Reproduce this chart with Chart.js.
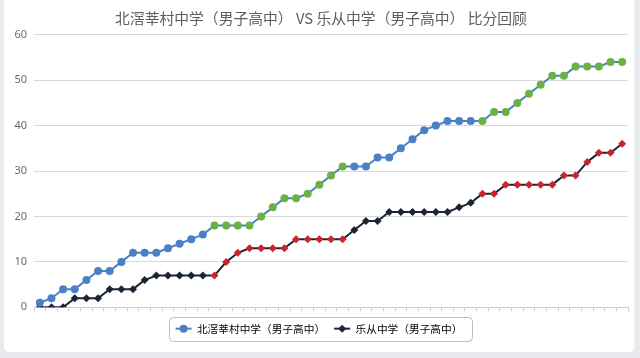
<!DOCTYPE html>
<html>
<head>
<meta charset="utf-8">
<script src="https://cdn.jsdelivr.net/npm/chart.js@4.4.1/dist/chart.umd.min.js"></script>
<style>
  html, body { margin: 0; padding: 0; background: #e8eaee; }
  #wrap { width: 640px; height: 358px; position: relative; }
</style>
</head>
<body>
<div id="wrap"><canvas id="c" width="640" height="358"></canvas></div>
<script>
// ---- data ----
const chartTitle = '北滘莘村中学（男子高中） VS 乐从中学（男子高中） 比分回顾';
const seriesNames = ['北滘莘村中学（男子高中）', '乐从中学（男子高中）'];
const categories = ['1','2','3','4','5','6','7','8','9','10','11','12','13','14','15','16','17','18','19','20','21','22','23','24','25','26','27','28','29','30','31','32','33','34','35','36','37','38','39','40','41','42','43','44','45','46','47','48','49','50','51'];
const beijiaoScores = [1,2,4,4,6,8,8,10,12,12,12,13,14,15,16,18,18,18,18,20,22,24,24,25,27,29,31,31,31,33,33,35,37,39,40,41,41,41,41,43,43,45,47,49,51,51,53,53,53,54,54];
const lecongScores  = [0,0,0,2,2,2,4,4,4,6,7,7,7,7,7,7,10,12,13,13,13,13,15,15,15,15,15,17,19,19,21,21,21,21,21,21,22,23,25,25,27,27,27,27,27,29,29,32,34,34,36];
const segment       = [1,1,1,1,1,1,1,1,1,1,1,1,1,1,1,2,2,2,2,2,2,2,2,2,2,2,2,3,3,3,3,3,3,3,3,3,3,3,4,4,4,4,4,4,4,4,4,4,4,4,4];
const yTicks = [0, 10, 20, 30, 40, 50, 60];

// ---- styles ----
const BLUE = '#4a80c4', GREEN = '#6ab246', DARK = '#1b2536', RED = '#cc2229';
const blueColors = segment.map(s => s % 2 === 0 ? GREEN : BLUE);
const darkColors = segment.map(s => s % 2 === 0 ? RED : DARK);

const framePlugin = {
  id: 'frame',
  afterLayout(chart) {
    if (chart.titleBlock) { chart.titleBlock.left += 7; chart.titleBlock.right += 7; }
    if (chart.legend) { chart.legend.left += 5; chart.legend.right += 5; }
  },
  beforeDraw(chart) {
    const ctx = chart.ctx;
    ctx.save();
    ctx.fillStyle = '#e8eaee';
    ctx.fillRect(0, 0, chart.width, chart.height);
    ctx.fillStyle = '#ffffff';
    ctx.beginPath();
    ctx.roundRect(4, -10, 630.5, 362, 5);
    ctx.fill();
    // legend box + markers
    const lg = chart.legend;
    if (lg && lg.legendHitBoxes && lg.legendHitBoxes.length) {
      const hb = lg.legendHitBoxes;
      const first = hb[0], last = hb[hb.length - 1];
      const x0 = first.left - 6.5, x1 = last.left + last.width + 9.5;
      const cy = first.top + first.height / 2;
      ctx.strokeStyle = '#bdbdbd';
      ctx.lineWidth = 1;
      ctx.beginPath();
      ctx.roundRect(Math.round(x0) + 0.5, Math.round(cy - 12) + 0.5, Math.round(x1 - x0), 24, 4);
      ctx.stroke();
      const cols = [BLUE, DARK];
      hb.forEach((h, i) => {
        const c = cols[i];
        ctx.strokeStyle = c; ctx.fillStyle = c; ctx.lineWidth = 2;
        ctx.beginPath(); ctx.moveTo(h.left, cy); ctx.lineTo(h.left + 16, cy); ctx.stroke();
        const px = h.left + 8;
        ctx.beginPath();
        if (i === 0) { ctx.arc(px, cy, 4, 0, Math.PI * 2); }
        else { ctx.moveTo(px, cy - 4); ctx.lineTo(px + 4, cy); ctx.lineTo(px, cy + 4); ctx.lineTo(px - 4, cy); ctx.closePath(); }
        ctx.fill();
      });
    }
    ctx.restore();
  }
};

new Chart(document.getElementById('c'), {
  type: 'line',
  data: {
    labels: categories,
    datasets: [
      {
        label: seriesNames[0],
        data: beijiaoScores,
        borderColor: BLUE,
        backgroundColor: BLUE,
        borderWidth: 2,
        pointStyle: 'circle',
        pointRadius: 4,
        pointBorderWidth: 0,
        pointBackgroundColor: blueColors,
        pointBorderColor: blueColors,
        tension: 0
      },
      {
        label: seriesNames[1],
        data: lecongScores,
        borderColor: DARK,
        backgroundColor: DARK,
        borderWidth: 2,
        pointStyle: 'rectRot',
        pointRadius: 4,
        pointBorderWidth: 0,
        pointBackgroundColor: darkColors,
        pointBorderColor: darkColors,
        tension: 0
      }
    ]
  },
  options: {
    responsive: false,
    animation: false,
    devicePixelRatio: 1,
    layout: { padding: { left: 0, right: 12, top: 0, bottom: 14 } },
    plugins: {
      title: {
        display: true,
        text: chartTitle,
        color: '#5e5e5e',
        font: { family: '"Noto Sans CJK SC", sans-serif', size: 14.8, weight: 'normal', lineHeight: 1.2 },
        padding: { top: 9, bottom: 8 }
      },
      legend: {
        display: true,
        position: 'bottom',
        labels: {
          color: '#4a4a4a',
          font: { family: '"Noto Sans CJK SC", sans-serif', size: 10.7 },
          boxWidth: 16,
          boxHeight: 10,
          padding: 9,
          generateLabels(chart) {
            return chart.data.datasets.map((ds, i) => ({
              text: ds.label,
              fillStyle: 'rgba(0,0,0,0)',
              strokeStyle: 'rgba(0,0,0,0)',
              lineWidth: 0,
              hidden: false,
              datasetIndex: i
            }));
          }
        }
      },
      tooltip: { enabled: false }
    },
    scales: {
      x: {
        offset: true,
        grid: { display: true, drawOnChartArea: false, drawTicks: true, tickLength: 4, color: '#cfcfcf', offset: true },
        border: { display: true, color: '#cfcfcf' },
        ticks: { display: false },
        afterFit(s) { s.height = 7; }
      },
      y: {
        min: 0, max: 60,
        afterBuildTicks(s) { s.ticks = yTicks.map(v => ({ value: v })); },
        grid: { color: '#d9d9d9', drawTicks: false },
        border: { display: false },
        ticks: { color: '#6a6a6a', padding: 7, font: { family: '"Noto Sans", sans-serif', size: 11 } },
        afterFit(s) { s.width = 34; }
      }
    }
  },
  plugins: [framePlugin]
});
</script>
</body>
</html>
